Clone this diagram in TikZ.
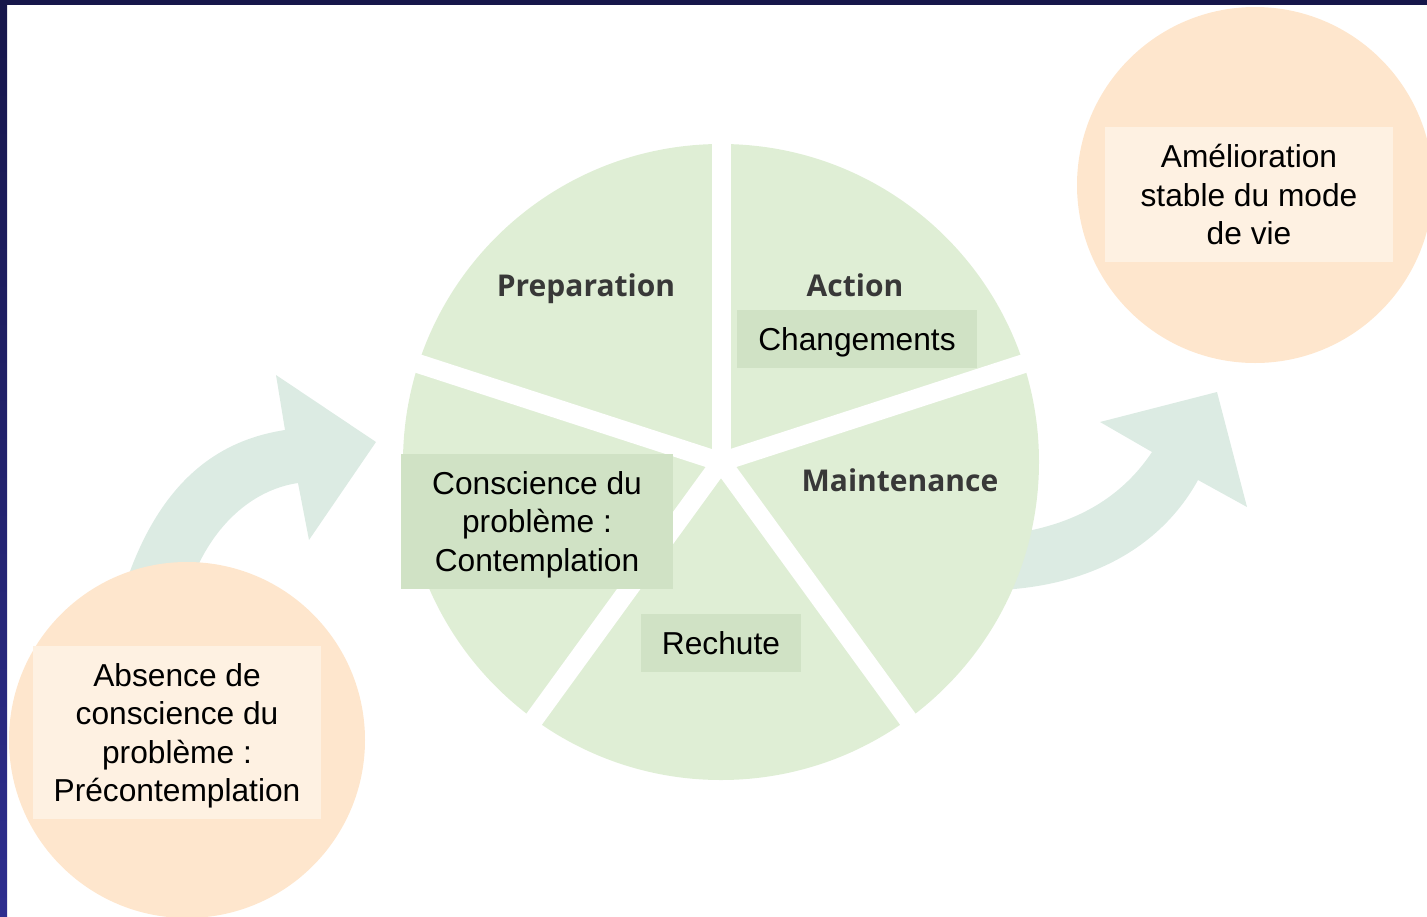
\documentclass[tikz,border=0pt]{standalone}
\usepackage{fontspec}
\setmainfont{Liberation Sans}
\newfontfamily\headfont{Open Sans}
\usepackage{tikz}
\usetikzlibrary{positioning}
\definecolor{navy}{HTML}{16164A}
\definecolor{navyb}{HTML}{2E2E8F}
\definecolor{pie}{HTML}{DFEED5}
\definecolor{stagebg}{HTML}{D0E2C5}
\definecolor{mint}{HTML}{DCEBE3}
\definecolor{peach}{HTML}{FEE6CD}
\definecolor{cream}{HTML}{FEF1E2}
\tikzset{
  sector/.style={fill=pie},
  gap/.style={draw=white, line width=19pt},
  turn/.style={fill=mint},
  bubble/.style={fill=peach},
  head/.style={text=black!78, inner sep=0pt, text depth=0pt, font=\headfont\bfseries\fontsize{30}{36}\selectfont},
  stage/.style={fill=stagebg, inner sep=0pt, text depth=0pt, align=center, font=\fontsize{31.7}{38.5}\selectfont},
  note/.style={fill=cream, inner sep=0pt, text depth=0pt, align=center, font=\fontsize{31.7}{38.5}\selectfont},
}

\begin{document}
\begin{tikzpicture}[x=1pt,y=-1pt]
  \useasboundingbox (0,0) rectangle (1427,916);
  \fill[navy] (0,0) rectangle (1427,5);
  \shade[top color=navy, bottom color=navyb] (0,0) rectangle (7,916);
  % curved arrows
  \fill[turn] (115,620) .. controls (150,480) and (220,440) .. (285,430)
    -- (276,375) -- (376,442) -- (309,540) -- (298,483)
    .. controls (250,490) and (205,530) .. (185,600) -- cycle;
  \fill[turn] (1000,590) .. controls (1100,585) and (1165,540) .. (1198,480)
    -- (1247,507) -- (1217,392) -- (1100,422) -- (1152,452)
    .. controls (1120,500) and (1070,528) .. (1000,535) -- cycle;
  % circles
  \fill[bubble] (187,740) circle (178pt);
  \fill[bubble] (1255,185) circle (178pt);
  % wheel
  \coordinate (c) at (721,462);
  \fill[sector] (c) circle (318pt);
  \foreach \a in {90,18,162,234,306}
    \draw[gap] (c) -- ++(-\a:340);
  \node[head] (prep) at (586,285) {Preparation};
  \node[head] (act) at (855,285) {Action};
  \node[head] (maint) at (900,480) {Maintenance};
  \node[stage, minimum width=240pt, minimum height=58pt] (chg) at (857,339) {Changements};
  \node[stage, minimum width=272pt, minimum height=135pt] (cont) at (537,521.5) {Conscience du\\problème :\\Contemplation};
  \node[stage, minimum width=160pt, minimum height=58pt] (rech) at (721,643) {Rechute};
  \node[note, minimum width=288pt, minimum height=173pt] (pre) at (177,732.5) {Absence de\\conscience du\\problème :\\Précontemplation};
  \node[note, minimum width=288pt, minimum height=135pt] (gain) at (1249,194.5) {Amélioration\\stable du mode\\de vie};
\end{tikzpicture}
\end{document}
